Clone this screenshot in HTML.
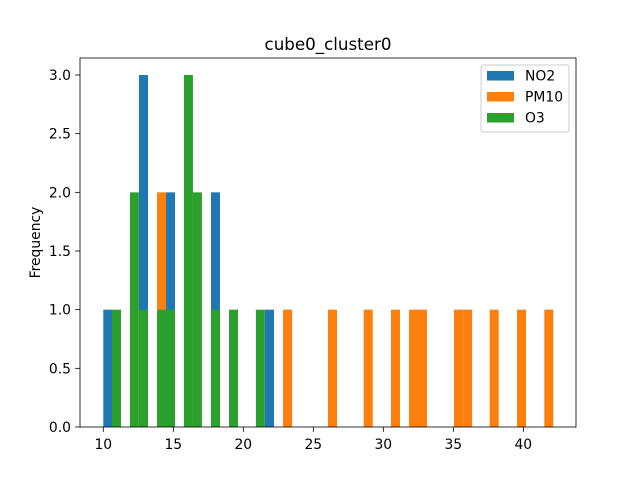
<!DOCTYPE html>
<html><head><meta charset="utf-8"><style>
body{margin:0;background:#fff}
svg text{font-family:"DejaVu Sans","Liberation Sans",sans-serif;fill:#000}
</style></head><body>
<svg id="chart" width="640" height="480" xmlns="http://www.w3.org/2000/svg">
<rect width="640" height="480" fill="#fff"/>
<g id="bars"></g>
<g id="axes"></g>
<text x="328" y="50" font-size="16.7" text-anchor="middle">cube0_cluster0</text>
<text transform="translate(40,242.5) rotate(-90)" font-size="13.9" text-anchor="middle">Frequency</text>
<g>
<rect x="481" y="65" width="88" height="67" rx="2" fill="#fff" stroke="#ccc" stroke-width="1"/>
<g><rect x="487" y="71" width="27" height="9.5" fill="#1f77b4"/><text x="525" y="80.5" font-size="13.9">NO2</text></g>
<g><rect x="487" y="92" width="27" height="9.5" fill="#ff7f0e"/><text x="525" y="101.5" font-size="13.9">PM10</text></g>
<g><rect x="487" y="113" width="27" height="9.5" fill="#2ca02c"/><text x="525" y="122.5" font-size="13.9">O3</text></g>
</g>
</svg>
<script>
const binWidth = 0.643;
const no2X = [10.0, 12.55, 14.48, 17.69, 21.55];
const no2Counts = [1, 3, 2, 2, 1];
const pm10X = [13.84, 22.84, 26.05, 28.6, 30.55, 31.84, 32.48, 35.05, 35.7, 37.6, 39.55, 41.5];
const pm10Counts = [2, 1, 1, 1, 1, 1, 1, 1, 1, 1, 1, 1];
const o3X = [10.62, 11.9, 12.55, 13.84, 14.48, 15.76, 16.4, 17.69, 18.98, 20.9];
const o3Counts = [1, 2, 1, 1, 1, 3, 2, 1, 1, 1];
const xTicks = [10, 15, 20, 25, 30, 35, 40];
const yTicks = [0, 0.5, 1.0, 1.5, 2.0, 2.5, 3.0];
const yTickLabels = ["0.0","0.5","1.0","1.5","2.0","2.5","3.0"];

const L=80,R=576,T=58,B=427;
const xs = v => 103.3 + (v-10)*14.0;
const ys = v => 427 - v*117.33;
const NS="http://www.w3.org/2000/svg";
const bars=document.getElementById('bars');
const axes=document.getElementById('axes');
function drawSeries(xsArr, counts, color, name){
  xsArr.forEach((x,i)=>{
    const r=document.createElementNS(NS,'rect');
    const x0=xs(x), x1=xs(x+binWidth);
    r.setAttribute('x',x0);r.setAttribute('width',x1-x0);
    r.setAttribute('y',ys(counts[i]));r.setAttribute('height',ys(0)-ys(counts[i]));
    r.setAttribute('fill',color);
    
    
    bars.appendChild(r);
  });
}
drawSeries(no2X,no2Counts,'#1f77b4','no2');
drawSeries(pm10X,pm10Counts,'#ff7f0e','pm10');
drawSeries(o3X,o3Counts,'#2ca02c','o3');

const frame=document.createElementNS(NS,'rect');
frame.setAttribute('x',L);frame.setAttribute('y',T);frame.setAttribute('width',R-L);frame.setAttribute('height',B-T);
frame.setAttribute('fill','none');frame.setAttribute('stroke','#000');frame.setAttribute('stroke-width','0.8');


axes.appendChild(frame);

xTicks.forEach(v=>{
  const l=document.createElementNS(NS,'line');
  l.setAttribute('x1',xs(v));l.setAttribute('x2',xs(v));l.setAttribute('y1',B);l.setAttribute('y2',B+4.9);
  l.setAttribute('stroke','#000');l.setAttribute('stroke-width','0.8');
  
  
  axes.appendChild(l);
  const t=document.createElementNS(NS,'text');
  t.setAttribute('x',xs(v));t.setAttribute('y',B+22);t.setAttribute('font-size','13.9');t.setAttribute('text-anchor','middle');
  t.textContent=String(v);
  
  
  axes.appendChild(t);
});
yTicks.forEach((v,i)=>{
  const l=document.createElementNS(NS,'line');
  l.setAttribute('x1',L-4.9);l.setAttribute('x2',L);l.setAttribute('y1',ys(v));l.setAttribute('y2',ys(v));
  l.setAttribute('stroke','#000');l.setAttribute('stroke-width','0.8');
  
  
  axes.appendChild(l);
  const t=document.createElementNS(NS,'text');
  t.setAttribute('x',L-9);t.setAttribute('y',ys(v)+5);t.setAttribute('font-size','13.9');t.setAttribute('text-anchor','end');
  t.textContent=yTickLabels[i];
  
  
  axes.appendChild(t);
});
</script>
</body></html>
